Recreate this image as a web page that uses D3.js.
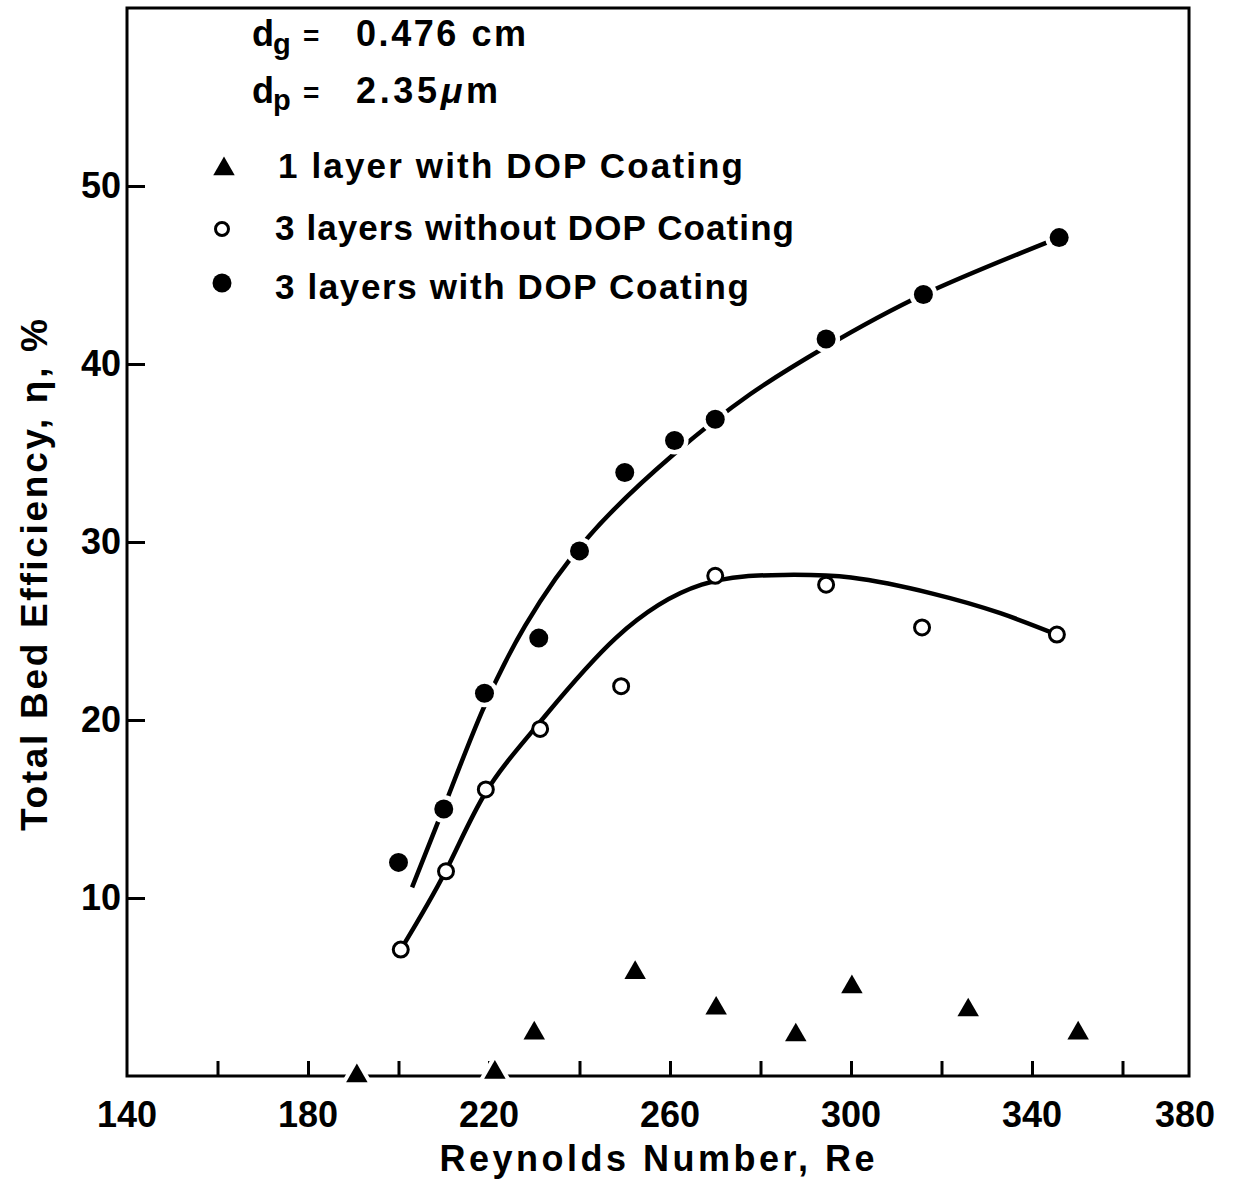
<!DOCTYPE html>
<html>
<head>
<meta charset="utf-8">
<script src="https://cdn.jsdelivr.net/npm/d3@7"></script>
<style>
  body { margin: 0; background: #fff; }
  svg text { font-family: "Liberation Sans", Arial, sans-serif; font-weight: bold; fill: #000; }
</style>
</head>
<body>
<svg id="chart" width="1234" height="1188"></svg>
<script>
// 3 layers with DOP coating (filled circles)
const reFilled = [200, 210, 219, 231, 240, 250, 261, 270, 294.5, 316, 346]
const effFilled = [12.0, 15.0, 21.5, 24.6, 29.5, 33.9, 35.7, 36.9, 41.4, 43.9, 47.1]

// 3 layers without DOP coating (open circles)
const reOpen = [200.5, 210.5, 219.3, 231.3, 249.2, 270, 294.5, 315.7, 345.5]
const effOpen = [7.1, 11.5, 16.1, 19.5, 21.9, 28.1, 27.6, 25.2, 24.8]

// 1 layer with DOP coating (triangles)
const reTri = [190.8, 221.3, 230, 252.3, 270.2, 287.8, 300.2, 325.9, 350.2]
const effTri = [0.0, 0.2, 2.4, 5.8, 3.8, 2.3, 5.0, 3.7, 2.4]

// hand drawn fit curves
const reCurveUpper = [203, 210.5, 218.5, 228, 242, 260.7, 277.7, 294, 316, 346]
const effCurveUpper = [10.6, 15.4, 20.5, 25.3, 30.3, 34.9, 38.3, 40.9, 43.9, 47.1]
const reCurveLower = [200.5, 210.4, 219.2, 231, 248, 267, 285, 300, 318, 333, 345.5]
const effCurveLower = [7.1, 11.5, 15.9, 19.8, 24.6, 27.6, 28.15, 28.0, 27.1, 26.0, 24.8]

const xTicks = [160, 180, 200, 220, 240, 260, 280, 300, 320, 340, 360]
const xLabels = [140, 180, 220, 260, 300, 340, 380]
const yLabels = [10, 20, 30, 40, 50]
const reFrameEnd = 374.7

const legendItems = [
  { label: "1 layer with DOP Coating", kind: "tri", len: 465 },
  { label: "3 layers without DOP Coating", kind: "open", len: 519 },
  { label: "3 layers with DOP Coating", kind: "filled", len: 474 },
]

const svg = d3.select("#chart")

const x = d3.scaleLinear().domain([140, 380]).range([127, 1213])
const y = d3.scaleLinear().domain([0, 60]).range([1076, 8])

const x0 = x(140), x1 = x(reFrameEnd), yTop = y(60), yBot = y(0)

// frame
svg.append("path")
  .attr("d", `M${x0},${yTop}H${x1}V${yBot}H${x0}Z`)
  .attr("fill", "none").attr("stroke", "#000").attr("stroke-width", 3)

// x ticks (inward)
const xTickAxis = d3.axisBottom(x).tickValues(xTicks).tickSize(-15).tickFormat("")
svg.append("g")
  .attr("transform", `translate(0,${yBot})`)
  .call(xTickAxis)
  .call(g => g.select(".domain").remove())
  .call(g => g.selectAll("line").attr("stroke-width", 3))

// x labels
svg.append("g").selectAll("text")
  .data(xLabels).join("text")
  .attr("x", d => Math.min(x(d), x1 - 4))
  .attr("y", 1127)
  .attr("text-anchor", "middle")
  .attr("font-size", 36)
  .text(d => d)

// y axis ticks + labels
const yAxis = d3.axisLeft(y).tickValues(yLabels).tickSize(-18).tickPadding(6)
svg.append("g")
  .attr("transform", `translate(${x0},0)`)
  .call(yAxis)
  .call(g => g.select(".domain").remove())
  .call(g => g.selectAll("line").attr("stroke-width", 3))
  .call(g => g.selectAll("text")
    .attr("font-size", 36).attr("font-family", null).attr("fill", "#000"))

// axis titles
svg.append("text")
  .attr("x", 657).attr("y", 1171)
  .attr("text-anchor", "middle")
  .attr("font-size", 36)
  .attr("textLength", 435).attr("lengthAdjust", "spacing")
  .text("Reynolds Number, Re")

svg.append("text")
  .attr("transform", "translate(47,575) rotate(-90)")
  .attr("text-anchor", "middle")
  .attr("font-size", 37)
  .attr("textLength", 512).attr("lengthAdjust", "spacing")
  .text("Total Bed Efficiency, η, %")

// curves
const line = d3.line().x(d => x(d[0])).y(d => y(d[1])).curve(d3.curveNatural)
svg.append("path")
  .datum(d3.zip(reCurveUpper, effCurveUpper))
  .attr("d", line)
  .attr("fill", "none").attr("stroke", "#000").attr("stroke-width", 4.5)
svg.append("path")
  .datum(d3.zip(reCurveLower, effCurveLower))
  .attr("d", line)
  .attr("fill", "none").attr("stroke", "#000").attr("stroke-width", 4.5)

// markers
const filled = d3.zip(reFilled, effFilled)
svg.append("g").selectAll("circle")
  .data(filled).join("circle")
  .attr("cx", d => x(d[0])).attr("cy", d => y(d[1]))
  .attr("r", 14).attr("fill", "#fff")
svg.append("g").selectAll("circle")
  .data(filled).join("circle")
  .attr("cx", d => x(d[0])).attr("cy", d => y(d[1]))
  .attr("r", 9.5).attr("fill", "#000")

svg.append("g").selectAll("circle")
  .data(d3.zip(reOpen, effOpen)).join("circle")
  .attr("cx", d => x(d[0])).attr("cy", d => y(d[1]))
  .attr("r", 7.5).attr("fill", "#fff").attr("stroke", "#000").attr("stroke-width", 3)

const tri = d3.symbol(d3.symbolTriangle, 200)
svg.append("g").selectAll("path")
  .data(d3.zip(reTri, effTri)).join("path")
  .attr("transform", d => `translate(${x(d[0])},${y(d[1])})`)
  .attr("d", tri)
  .attr("fill", "#000").attr("stroke", "#fff").attr("stroke-width", 8)
  .attr("paint-order", "stroke")

// parameters
const params = svg.append("g").attr("font-size", 36)
params.append("text").attr("x", 252).attr("y", 46).text("d")
params.append("text").attr("x", 273).attr("y", 54).attr("font-size", 29).text("g")
params.append("text").attr("x", 303).attr("y", 45).attr("font-size", 28).text("=")
params.append("text").attr("x", 356).attr("y", 46)
  .attr("textLength", 170).attr("lengthAdjust", "spacing").text("0.476 cm")
params.append("text").attr("x", 252).attr("y", 103).text("d")
params.append("text").attr("x", 273).attr("y", 110).attr("font-size", 29).text("p")
params.append("text").attr("x", 303).attr("y", 102).attr("font-size", 28).text("=")
const dp = params.append("text").attr("x", 356).attr("y", 103)
  .attr("textLength", 142).attr("lengthAdjust", "spacing")
dp.append("tspan").text("2.35")
dp.append("tspan").attr("font-style", "italic").text("μ")
dp.append("tspan").text("m")

// legend
const legendY = [170, 232, 291]
const leg = svg.append("g").selectAll("g")
  .data(legendItems).join("g")
  .attr("transform", (d, i) => `translate(0,${legendY[i]})`)
leg.each(function (d) {
  const g = d3.select(this)
  if (d.kind === "tri") {
    g.append("path").attr("transform", "translate(224,-1)").attr("d", tri).attr("fill", "#000")
  } else if (d.kind === "open") {
    g.append("circle").attr("cx", 222).attr("cy", -3).attr("r", 6.5)
      .attr("fill", "#fff").attr("stroke", "#000").attr("stroke-width", 3)
  } else {
    g.append("circle").attr("cx", 222).attr("cy", -8).attr("r", 9.5).attr("fill", "#000")
  }
})
leg.append("text")
  .attr("x", (d, i) => i === 0 ? 278 : 275)
  .attr("y", 8)
  .attr("font-size", 35)
  .attr("textLength", d => d.len).attr("lengthAdjust", "spacing")
  .text(d => d.label)
</script>
</body>
</html>
